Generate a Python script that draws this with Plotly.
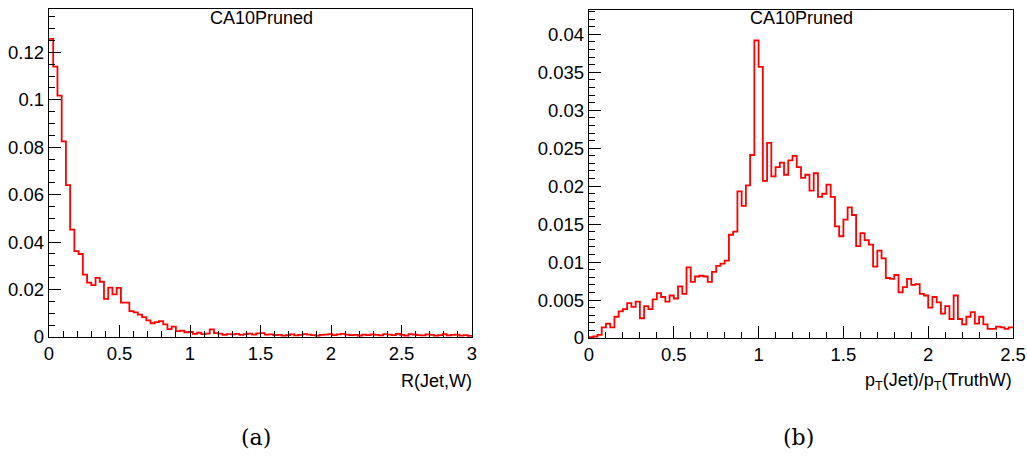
import numpy as np
import plotly.graph_objects as go

# ---------------- data ----------------
left_title = "CA10Pruned"
right_title = "CA10Pruned"
left_xlabel = "R(Jet,W)"
right_xlabel = "p<sub>T</sub>(Jet)/p<sub>T</sub>(TruthW)"
left_range = (0.0, 3.0)
right_range = (0.0, 2.5)
n_bins = 100

left_values = [
    0.1257, 0.1140, 0.1018, 0.0825, 0.0640, 0.0453, 0.0362, 0.0350, 0.0263, 0.0229,
    0.0219, 0.0249, 0.0233, 0.0161, 0.0208, 0.0180, 0.0207, 0.0145, 0.0145, 0.0109,
    0.0104, 0.0094, 0.0084, 0.0070, 0.0058, 0.0063, 0.0067, 0.0053, 0.0033, 0.0044,
    0.0025, 0.0027, 0.0020, 0.0021, 0.0013, 0.0018, 0.0012, 0.0014, 0.0032, 0.0016,
    0.0014, 0.0009, 0.0012, 0.0011, 0.0013, 0.0009, 0.0012, 0.0014, 0.0010, 0.0015,
    0.0016, 0.0010, 0.0011, 0.0008, 0.0009, 0.0006, 0.0008, 0.0011, 0.0007, 0.0009,
    0.0012, 0.0010, 0.0008, 0.0006, 0.0009, 0.0010, 0.0012, 0.0008, 0.0011, 0.0013,
    0.0010, 0.0008, 0.0009, 0.0006, 0.0010, 0.0008, 0.0011, 0.0009, 0.0007, 0.0012,
    0.0010, 0.0008, 0.0013, 0.0009, 0.0006, 0.0012, 0.0010, 0.0008, 0.0007, 0.0011,
    0.0009, 0.0006, 0.0008, 0.0012, 0.0007, 0.0009, 0.0010, 0.0006, 0.0008, 0.0005,
]

right_values = [
    0.0001, 0.0002, 0.0004, 0.0014, 0.0019, 0.0014, 0.0028, 0.0035, 0.0038, 0.0046,
    0.0041, 0.0048, 0.0026, 0.0042, 0.0038, 0.0051, 0.0059, 0.0054, 0.0048, 0.0056,
    0.0052, 0.0068, 0.0058, 0.0093, 0.0074, 0.0081, 0.0082, 0.0081, 0.0074, 0.0087,
    0.0095, 0.0098, 0.0102, 0.0136, 0.0140, 0.0193, 0.0174, 0.0201, 0.0241, 0.0392,
    0.0357, 0.0207, 0.0257, 0.0213, 0.0225, 0.0231, 0.0215, 0.0234, 0.0240, 0.0225,
    0.0211, 0.0215, 0.0194, 0.0217, 0.0186, 0.0190, 0.0202, 0.0186, 0.0147, 0.0134,
    0.0156, 0.0172, 0.0162, 0.0121, 0.0138, 0.0129, 0.0123, 0.0094, 0.0115, 0.0105,
    0.0079, 0.0078, 0.0083, 0.0060, 0.0067, 0.0078, 0.0070, 0.0071, 0.0058, 0.0056,
    0.0040, 0.0054, 0.0047, 0.0032, 0.0042, 0.0025, 0.0056, 0.0025, 0.0018, 0.0028,
    0.0034, 0.0019, 0.0028, 0.0018, 0.0012, 0.0012, 0.0015, 0.0014, 0.0012, 0.0014,
]

# ---------------- figure ----------------
W, H = 1027, 463
FONT = "Liberation Sans, Arial, Helvetica, sans-serif"


def step_xy(values, xr):
    edges = np.linspace(xr[0], xr[1], n_bins + 1)
    xs = list(edges)
    ys = list(values) + [values[-1]]
    return xs, ys


fig = go.Figure()
lx, ly = step_xy(left_values, left_range)
rx, ry = step_xy(right_values, right_range)
fig.add_trace(go.Scatter(x=lx, y=ly, mode="lines", line=dict(color="#ff0000", width=1.8, shape="hv"),
                         xaxis="x", yaxis="y", showlegend=False, hoverinfo="skip", cliponaxis=True))
fig.add_trace(go.Scatter(x=rx, y=ry, mode="lines", line=dict(color="#ff0000", width=1.8, shape="hv"),
                         xaxis="x2", yaxis="y2", showlegend=False, hoverinfo="skip", cliponaxis=True))


def px_x(p):
    return p / W


def px_y(p):
    return 1 - p / H


axis_common = dict(showline=True, linecolor="black", linewidth=1.2, mirror=True,
                   ticks="inside", tickcolor="black", ticklen=12, tickwidth=1,
                   showgrid=False, zeroline=False, automargin=False,
                   tickfont=dict(family=FONT, size=18.5, color="black"))

fig.update_layout(
    width=W, height=H,
    margin=dict(l=0, r=0, t=0, b=0, autoexpand=False),
    paper_bgcolor="white", plot_bgcolor="white",
    hovermode=False,
    xaxis=dict(domain=[px_x(49), px_x(472)], range=list(left_range), anchor="y",
               dtick=0.5, tick0=0,
               minor=dict(dtick=0.1, ticklen=6, ticks="inside", tickcolor="black"),
               **axis_common),
    yaxis=dict(domain=[px_y(337), px_y(9)], range=[0, 0.1383], anchor="x",
               dtick=0.02, tick0=0,
               minor=dict(dtick=0.005, ticklen=6, ticks="inside", tickcolor="black"),
               **axis_common),
    xaxis2=dict(domain=[px_x(589), px_x(1013)], range=list(right_range), anchor="y2",
                dtick=0.5, tick0=0,
                minor=dict(dtick=0.1, ticklen=6, ticks="inside", tickcolor="black"),
                **axis_common),
    yaxis2=dict(domain=[px_y(338), px_y(10)], range=[0, 0.0432], anchor="x2",
                dtick=0.005, tick0=0,
                minor=dict(dtick=0.001, ticklen=6, ticks="inside", tickcolor="black"),
                **axis_common),
)

ann_font = dict(family=FONT, size=18, color="black")
serif = dict(family="DejaVu Serif, Liberation Serif, serif", size=22, color="black")
annotations = [
    dict(text=left_title, x=px_x(261), y=px_y(18), xanchor="center", yanchor="middle", font=ann_font),
    dict(text=right_title, x=px_x(801), y=px_y(18), xanchor="center", yanchor="middle", font=ann_font),
    dict(text=left_xlabel, x=px_x(474), y=px_y(381), xanchor="right", yanchor="middle", font=ann_font),
    dict(text=right_xlabel, x=px_x(1014), y=px_y(381), xanchor="right", yanchor="middle", font=ann_font),
    dict(text="(a)", x=px_x(256), y=px_y(437), xanchor="center", yanchor="middle", font=serif),
    dict(text="(b)", x=px_x(798), y=px_y(437), xanchor="center", yanchor="middle", font=serif),
]
for a in annotations:
    a.update(xref="paper", yref="paper", showarrow=False)
fig.update_layout(annotations=annotations)

fig.write_html("out.html",
               config={"displayModeBar": False, "staticPlot": True},
               post_script="document.body.style.margin='0';document.body.style.padding='0';"
                           "document.body.style.overflow='hidden';")
